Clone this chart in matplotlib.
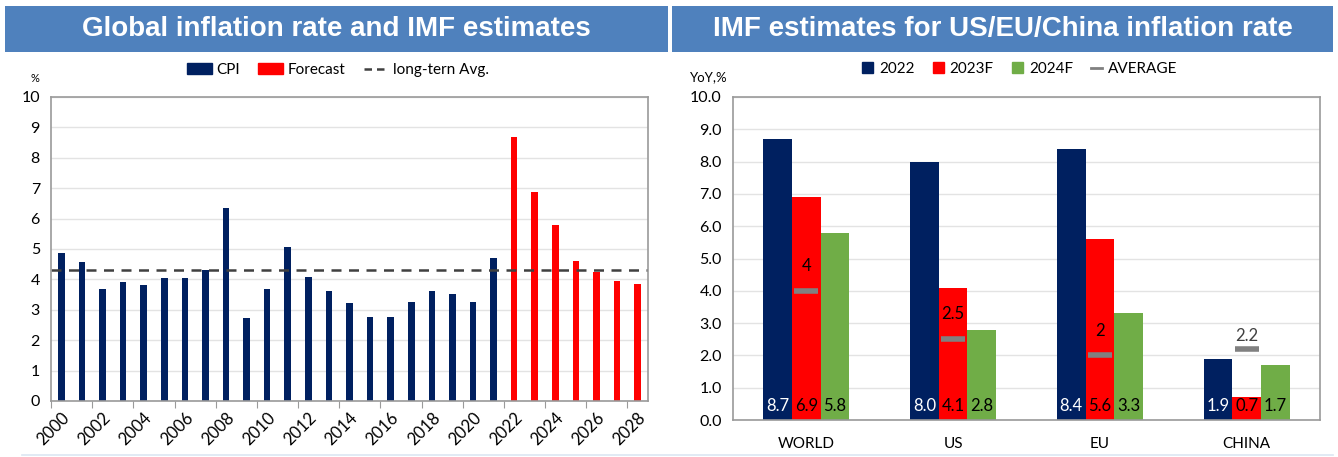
import numpy as np
import matplotlib.pyplot as plt
from matplotlib.patches import Rectangle, Patch
from matplotlib.lines import Line2D

plt.rcParams['font.family'] = ['Lato', 'DejaVu Sans']

# left chart data
years = list(range(2000, 2029))
cpi = [4.86, 4.58, 3.68, 3.90, 3.81, 4.03, 4.05, 4.30, 6.36, 2.73, 3.70,
       5.08, 4.08, 3.62, 3.23, 2.76, 2.76, 3.25, 3.62, 3.52, 3.26, 4.70]
forecast = [8.70, 6.88, 5.80, 4.62, 4.23, 3.95, 3.84]
long_avg = 4.31

# right chart data
regions = ["WORLD", "US", "EU", "CHINA"]
v2022 = [8.7, 8.0, 8.4, 1.9]
v2023 = [6.9, 4.1, 5.6, 0.7]
v2024 = [5.8, 2.8, 3.3, 1.7]
average = [4, 2.5, 2, 2.2]
avg_labels = ["4", "2.5", "2", "2.2"]

NAVY = "#002060"
RED = "#FF0000"
GREEN = "#70AD47"
BANNER = "#4F81BD"
GRID = "#E3E3E3"
FRAME = "#9A9A9A"

fig = plt.figure(figsize=(13.38, 4.57), dpi=100)

def px(x0, y0, w, h):
    # pixel box (top-left origin) -> figure fraction
    return [x0 / 1338, 1 - (y0 + h) / 457, w / 1338, h / 457]

# title banners
for (x0, x1, title) in [(5, 668, "Global inflation rate and IMF estimates"),
                        (672, 1333, "IMF estimates for US/EU/China inflation rate")]:
    b = px(x0, 6, x1 - x0, 46)
    fig.patches.append(Rectangle((b[0], b[1]), b[2], b[3], transform=fig.transFigure,
                                 facecolor=BANNER, edgecolor='none', zorder=0))
    fig.text(b[0] + b[2] / 2, b[1] + b[3] / 2, title, color='white', fontsize=20,
             fontweight='bold', family='Liberation Sans', ha='center', va='center')

# bottom thin line
fig.add_artist(Line2D([22 / 1338, 1333 / 1338], [2 / 457, 2 / 457], transform=fig.transFigure,
                      color="#DCE6F2", lw=1.2))


def style_frame(ax):
    for s in ax.spines.values():
        s.set_color(FRAME)
        s.set_linewidth(1.2)
    ax.grid(axis='y', color=GRID, lw=1)
    ax.set_axisbelow(True)


# ---- left chart
ax1 = fig.add_axes(px(51, 97, 597, 304))
x_cpi = np.arange(len(cpi))
x_fc = np.arange(len(cpi), len(cpi) + len(forecast))
ax1.bar(x_cpi, cpi, width=0.32, color=NAVY)
ax1.bar(x_fc, forecast, width=0.32, color=RED)
ax1.axhline(long_avg, color="#404040", ls=(0, (4, 3)), lw=1.8)
ax1.set_xlim(-0.5, len(years) - 0.5)
ax1.set_ylim(0, 10)
ax1.set_yticks(range(0, 11))
ax1.set_xticks(np.arange(-0.5, len(years), 2))
ax1.set_xticklabels([])
ax1.set_xticks(np.arange(0, len(years), 2), minor=True)
ax1.set_xticklabels([str(y) for y in years[::2]], minor=True, rotation=45,
                    ha='right', rotation_mode='anchor', fontsize=12)
ax1.tick_params(axis='x', which='minor', length=0, pad=6)
ax1.tick_params(axis='x', which='major', length=5, color=FRAME)
ax1.tick_params(axis='y', length=0, labelsize=11.5, pad=8)
style_frame(ax1)
ax1.text(-0.02, 1.05, "%", transform=ax1.transAxes, fontsize=8, ha='right')
h1 = [Patch(color=NAVY, label="CPI"), Patch(color=RED, label="Forecast"),
      Line2D([], [], color="#404040", ls=(0, (3, 2)), lw=1.8, label="long-tern Avg.")]
fig.legend(handles=h1, loc='center', bbox_to_anchor=(338 / 1338, 1 - 70 / 457), ncol=3,
           frameon=False, fontsize=11, handlelength=1.6, handleheight=0.7,
           columnspacing=1.2, handletextpad=0.3)

# ---- right chart
ax2 = fig.add_axes(px(733, 97, 587, 323))
xr = np.arange(len(regions))
w = 0.195
b1 = ax2.bar(xr - w, v2022, width=w, color=NAVY)
b2 = ax2.bar(xr, v2023, width=w, color=RED)
b3 = ax2.bar(xr + w, v2024, width=w, color=GREEN)
for bars, vals, col in [(b1, v2022, "white"), (b2, v2023, "black"), (b3, v2024, "black")]:
    for rect, v in zip(bars, vals):
        ax2.text(rect.get_x() + rect.get_width() / 2, 0.42, f"{v:.1f}", ha='center',
                 va='center', color=col, fontsize=12)
ax2.errorbar(xr, average, xerr=w * 0.42, fmt='none', ecolor="#808080", elinewidth=4,
             capsize=0)
for xi, a, lab, v in zip(xr, average, avg_labels, v2023):
    # label sits inside the red bar, or just above the marker when the bar is short
    inside = v > a + 1
    ax2.text(xi, a + (0.77 if inside else 0.4), lab, ha='center', va='center', fontsize=12,
             color='black' if inside else '#404040')
ax2.set_xlim(-0.5, len(regions) - 0.5)
ax2.set_ylim(0, 10)
ax2.set_yticks(np.arange(0, 11))
ax2.set_yticklabels([f"{v:.1f}" for v in range(0, 11)])
ax2.set_xticks(xr)
ax2.set_xticklabels(regions)
ax2.tick_params(axis='x', length=0, labelsize=11, pad=12)
ax2.tick_params(axis='y', length=0, labelsize=11.5, pad=8)
style_frame(ax2)
ax2.text(-0.01, 1.05, "YoY,%", transform=ax2.transAxes, fontsize=9.5, ha='right')
h2 = [Patch(color=NAVY, label="2022"), Patch(color=RED, label="2023F"),
      Patch(color=GREEN, label="2024F"),
      Line2D([], [], color="#808080", lw=2, label="AVERAGE")]
fig.legend(handles=h2, loc='center', bbox_to_anchor=(1020 / 1338, 1 - 69 / 457), ncol=4,
           frameon=False, fontsize=11, handlelength=0.7, handleheight=0.7,
           columnspacing=1.2, handletextpad=0.4)

fig.savefig("out.png", dpi=100)
